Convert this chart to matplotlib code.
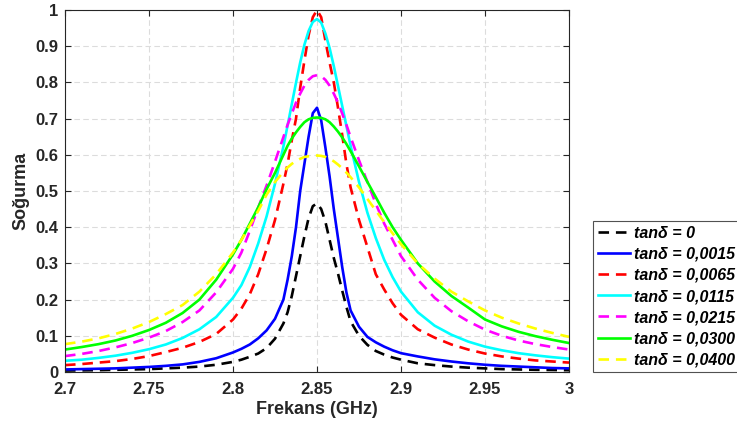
import matplotlib
matplotlib.use("Agg")
import matplotlib.pyplot as plt

plt.rcParams['font.family'] = ['Liberation Sans', 'DejaVu Sans']

freq = [2.70, 2.71, 2.72, 2.73, 2.74, 2.75, 2.76, 2.77, 2.78, 2.79, 2.80, 2.805, 2.81, 2.815, 2.82, 2.825,
        2.83, 2.8325, 2.835, 2.8375, 2.84, 2.8425, 2.845, 2.8475, 2.85,
        2.8525, 2.855, 2.8575, 2.86, 2.8625, 2.865, 2.8675, 2.87, 2.875, 2.88, 2.885, 2.89, 2.895,
        2.90, 2.91, 2.92, 2.93, 2.94, 2.95, 2.96, 2.97, 2.98, 2.99, 3.00]

tan_0 = [0.004, 0.0045, 0.005, 0.006, 0.007, 0.008, 0.010, 0.012, 0.015, 0.020, 0.028, 0.034, 0.042, 0.051, 0.066, 0.092,
         0.134, 0.165, 0.21, 0.265, 0.32, 0.375, 0.425, 0.458, 0.466,
         0.45, 0.415, 0.365, 0.315, 0.272, 0.225, 0.18, 0.14, 0.10, 0.075, 0.058, 0.048, 0.04,
         0.034, 0.024, 0.019, 0.015, 0.012, 0.010, 0.008, 0.007, 0.006, 0.0055, 0.005]
tan_0015 = [0.007, 0.008, 0.009, 0.010, 0.012, 0.014, 0.017, 0.021, 0.028, 0.038, 0.054, 0.064, 0.076, 0.093, 0.115, 0.147,
            0.20, 0.255, 0.32, 0.40, 0.50, 0.575, 0.65, 0.715, 0.73,
            0.695, 0.62, 0.54, 0.45, 0.37, 0.29, 0.22, 0.17, 0.125, 0.097, 0.082, 0.07, 0.06,
            0.052, 0.043, 0.035, 0.029, 0.024, 0.02, 0.017, 0.015, 0.013, 0.011, 0.010]
tan_0065 = [0.019, 0.022, 0.026, 0.030, 0.036, 0.044, 0.055, 0.067, 0.083, 0.105, 0.145, 0.175, 0.215, 0.27, 0.34, 0.42,
            0.52, 0.575, 0.64, 0.70, 0.785, 0.86, 0.93, 0.98, 1.0,
            0.98, 0.915, 0.855, 0.80, 0.73, 0.655, 0.575, 0.51, 0.42, 0.345, 0.27, 0.228, 0.19,
            0.158, 0.118, 0.095, 0.076, 0.062, 0.051, 0.043, 0.037, 0.032, 0.029, 0.026]
tan_0115 = [0.031, 0.034, 0.039, 0.045, 0.053, 0.063, 0.076, 0.094, 0.118, 0.152, 0.205, 0.24, 0.29, 0.355, 0.43, 0.52,
            0.623, 0.681, 0.74, 0.799, 0.855, 0.904, 0.942, 0.967, 0.975,
            0.965, 0.935, 0.895, 0.845, 0.79, 0.735, 0.68, 0.625, 0.525, 0.44, 0.37, 0.31, 0.262,
            0.222, 0.165, 0.128, 0.103, 0.084, 0.07, 0.06, 0.052, 0.046, 0.041, 0.037]
tan_0215 = [0.044, 0.05, 0.058, 0.068, 0.08, 0.095, 0.113, 0.138, 0.17, 0.22, 0.285, 0.33, 0.39, 0.454, 0.515, 0.581,
            0.649, 0.683, 0.714, 0.744, 0.769, 0.791, 0.807, 0.817, 0.82,
            0.817, 0.807, 0.791, 0.769, 0.744, 0.714, 0.683, 0.649, 0.585, 0.525, 0.465, 0.41, 0.365,
            0.32, 0.255, 0.205, 0.168, 0.14, 0.117, 0.10, 0.087, 0.077, 0.069, 0.062]
tan_0300 = [0.062, 0.069, 0.077, 0.087, 0.10, 0.116, 0.136, 0.163, 0.20, 0.255, 0.325, 0.365, 0.41, 0.455, 0.505, 0.55,
            0.60, 0.625, 0.645, 0.662, 0.677, 0.69, 0.698, 0.702, 0.703,
            0.702, 0.698, 0.69, 0.678, 0.664, 0.648, 0.63, 0.61, 0.568, 0.525, 0.483, 0.44, 0.40,
            0.365, 0.30, 0.25, 0.21, 0.178, 0.145, 0.126, 0.111, 0.099, 0.089, 0.08]
tan_0400 = [0.077, 0.084, 0.093, 0.105, 0.12, 0.138, 0.16, 0.185, 0.222, 0.27, 0.33, 0.365, 0.405, 0.445, 0.49, 0.525,
            0.553, 0.565, 0.575, 0.583, 0.589, 0.594, 0.596, 0.598, 0.598,
            0.597, 0.594, 0.589, 0.582, 0.573, 0.563, 0.551, 0.538, 0.51, 0.478, 0.446, 0.414, 0.383,
            0.353, 0.30, 0.258, 0.222, 0.195, 0.17, 0.15, 0.134, 0.12, 0.108, 0.097]

labels = ['tan\u03b4 = 0', 'tan\u03b4 = 0,0015', 'tan\u03b4 = 0,0065', 'tan\u03b4 = 0,0115',
          'tan\u03b4 = 0,0215', 'tan\u03b4 = 0,0300', 'tan\u03b4 = 0,0400']
series = [tan_0, tan_0015, tan_0065, tan_0115, tan_0215, tan_0300, tan_0400]
colors = ['#000000', '#0000ff', '#ff0000', '#00ffff', '#ff00ff', '#00ff00', '#ffff00']
dashed = [True, False, True, False, True, False, True]

xticks = [2.7, 2.75, 2.8, 2.85, 2.9, 2.95, 3.0]
xtick_labels = ['2.7', '2.75', '2.8', '2.85', '2.9', '2.95', '3']
yticks = [0, 0.1, 0.2, 0.3, 0.4, 0.5, 0.6, 0.7, 0.8, 0.9, 1.0]
ytick_labels = ['0', '0.1', '0.2', '0.3', '0.4', '0.5', '0.6', '0.7', '0.8', '0.9', '1']

fig = plt.figure(figsize=(7.37, 4.34), dpi=100)
ax = fig.add_axes([65/737, 62/434, (569-65)/737, (372-10)/434])

for y, lab, c, d in zip(series, labels, colors, dashed):
    if d:
        ax.plot(freq, y, color=c, lw=1.9, linestyle=(0, (4, 2.6)), label=lab)
    else:
        ax.plot(freq, y, color=c, lw=1.9, label=lab)

ax.set_xlim(2.7, 3.0)
ax.set_ylim(0, 1)
ax.set_xticks(xticks)
ax.set_xticklabels(xtick_labels)
ax.set_yticks(yticks)
ax.set_yticklabels(ytick_labels)
for lab in ax.get_xticklabels() + ax.get_yticklabels():
    lab.set_fontweight('bold')
    lab.set_fontsize(12)
    lab.set_color('#262626')
ax.tick_params(direction='in', top=True, right=True, length=4, color='#262626')
ax.tick_params(axis='x', pad=7)
ax.tick_params(axis='y', pad=5)
ax.grid(True, color='#dcdcdc', linestyle=(0, (5, 3)), lw=0.8)
for s in ax.spines.values():
    s.set_color('#262626')
    s.set_linewidth(0.8)

ax.set_xlabel('Frekans (GHz)', fontsize=13, fontweight='bold', color='#262626', labelpad=3)
ax.set_ylabel('So\u011furma', fontsize=13, fontweight='bold', color='#262626', labelpad=4)

leg = fig.legend(loc='lower left', bbox_to_anchor=(593/737, 62/434), frameon=True, fancybox=False,
                 prop={'weight': 'bold', 'style': 'italic', 'size': 11.5}, handlelength=2.0,
                 borderpad=0.3, labelspacing=0.38, handletextpad=0.25, borderaxespad=0)
leg.get_frame().set_edgecolor('#262626')
leg.get_frame().set_linewidth(0.8)

fig.savefig('out.png', dpi=100)
